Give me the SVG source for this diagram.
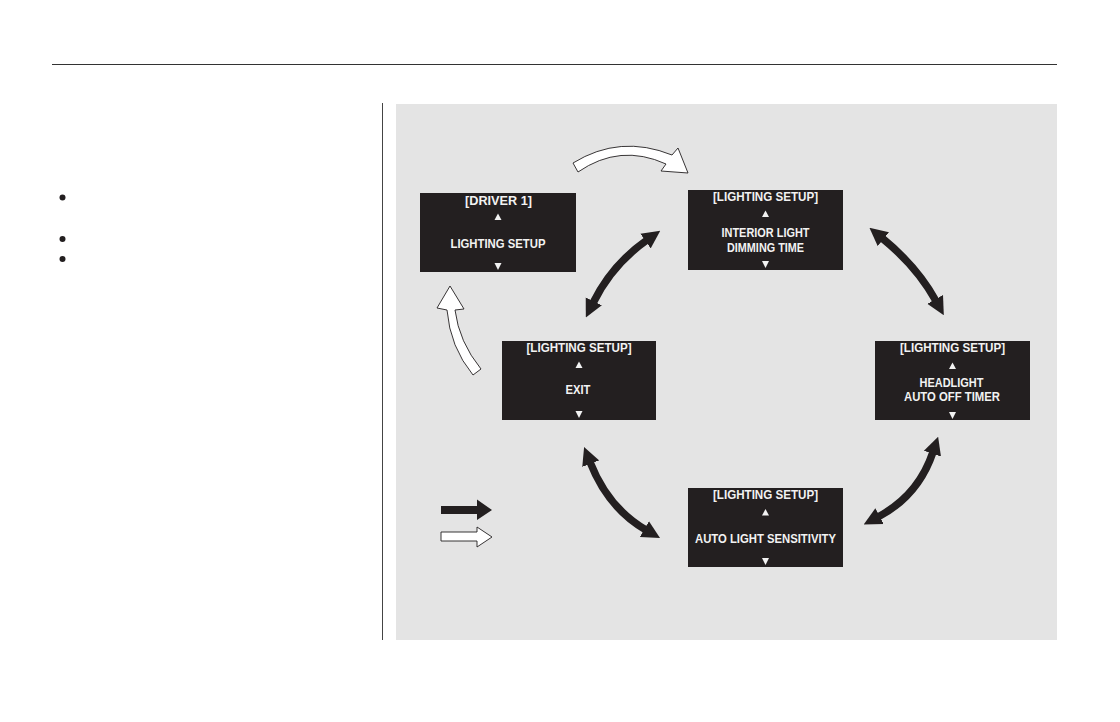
<svg xmlns="http://www.w3.org/2000/svg" width="1120" height="722" viewBox="0 0 1120 722">
<defs>
<style>
.box{fill:#231f20}
.t{font-family:"Liberation Sans",Arial,sans-serif;font-weight:bold;fill:#f2f2f2;text-anchor:middle;font-size:12.5px}
.b{font-family:"Liberation Sans",Arial,sans-serif;font-weight:bold;fill:#f2f2f2;text-anchor:middle;font-size:13.5px}
.tri{fill:#f2f2f2}
.dbl{fill:none;stroke:#231f20;stroke-width:7.5}
.wa{fill:#ffffff;stroke:#231f20;stroke-width:0.9;stroke-linejoin:miter}
</style>
<marker id="ah" viewBox="0 0 10 10" refX="1" refY="5" markerUnits="userSpaceOnUse" markerWidth="18" markerHeight="19" orient="auto-start-reverse">
<path d="M0,0 L10,5 L0,10 Z" fill="#231f20"/>
</marker>
</defs>
<rect width="1120" height="722" fill="#ffffff"/>
<line x1="52" y1="64.5" x2="1057" y2="64.5" stroke="#333" stroke-width="1"/>
<line x1="382.5" y1="103" x2="382.5" y2="640" stroke="#444" stroke-width="1"/>
<rect x="396" y="104" width="661" height="536" fill="#e4e4e4"/>
<g id="bullets" fill="#231f20">
<circle cx="62.5" cy="197.5" r="3"/>
<circle cx="62.5" cy="239" r="3"/>
<circle cx="62.5" cy="259" r="3"/>
</g>
<g id="connectors">
<path class="dbl" d="M593,303 Q612,264.5 647,240" marker-start="url(#ah)" marker-end="url(#ah)"/>
<path class="dbl" d="M882,238 Q917,266.5 936,301" marker-start="url(#ah)" marker-end="url(#ah)"/>
<path class="dbl" d="M590,462 Q608,508 646,530" marker-start="url(#ah)" marker-end="url(#ah)"/>
<path class="dbl" d="M933,452 Q918.5,495.5 878,517" marker-start="url(#ah)" marker-end="url(#ah)"/>
<path class="wa" d="M573,163 Q620,134 672,155 L678,148 L688,173 L661,171 L666,164 Q620,143 578,172 Z"/>
<path class="wa" d="M447,310 L437,308 L450,286 L464,309 L455,310 Q459,342 481,369 L473,375 Q450,347 447,310 Z"/>
</g>
<g id="legend">
<path d="M441,506 L477,506 L477,499.5 L492,510 L477,520 L477,514 L441,514 Z" fill="#231f20"/>
<path class="wa" d="M441,532 L477,532 L477,527 L492,537 L477,547 L477,541 L441,541 Z"/>
</g>
<g id="node-driver">
<rect class="box" x="420" y="193" width="156" height="79"/>
<text class="t" x="498.5" y="205" textLength="67" lengthAdjust="spacingAndGlyphs">[DRIVER 1]</text>
<polygon class="tri" points="498,213.5 501.5,220 494.5,220"/>
<text class="b" x="498" y="247.5" textLength="95" lengthAdjust="spacingAndGlyphs">LIGHTING SETUP</text>
<polygon class="tri" points="494.5,263 501.5,263 498,270"/>
</g>
<g id="node-interior">
<rect class="box" x="688" y="190" width="155" height="80"/>
<text class="t" x="765.5" y="200.7" textLength="105" lengthAdjust="spacingAndGlyphs">[LIGHTING SETUP]</text>
<polygon class="tri" points="765.5,210.5 769,217 762,217"/>
<text class="b" x="765.5" y="236.7" textLength="88" lengthAdjust="spacingAndGlyphs">INTERIOR LIGHT</text>
<text class="b" x="765.5" y="252.3" textLength="77" lengthAdjust="spacingAndGlyphs">DIMMING TIME</text>
<polygon class="tri" points="762,261 769,261 765.5,268"/>
</g>
<g id="node-exit">
<rect class="box" x="502" y="341" width="154" height="79"/>
<text class="t" x="579" y="351.7" textLength="105" lengthAdjust="spacingAndGlyphs">[LIGHTING SETUP]</text>
<polygon class="tri" points="579,361.5 582.5,368 575.5,368"/>
<text class="b" x="578" y="394.3" textLength="25" lengthAdjust="spacingAndGlyphs">EXIT</text>
<polygon class="tri" points="575.5,411 582.5,411 579,418"/>
</g>
<g id="node-headlight">
<rect class="box" x="875" y="341" width="155" height="79"/>
<text class="t" x="952.5" y="352.3" textLength="105" lengthAdjust="spacingAndGlyphs">[LIGHTING SETUP]</text>
<polygon class="tri" points="952.5,362.5 956,369 949,369"/>
<text class="b" x="951.5" y="386.7" textLength="64" lengthAdjust="spacingAndGlyphs">HEADLIGHT</text>
<text class="b" x="952" y="401" textLength="96" lengthAdjust="spacingAndGlyphs">AUTO OFF TIMER</text>
<polygon class="tri" points="949,412 956,412 952.5,419"/>
</g>
<g id="node-autolight">
<rect class="box" x="688" y="488" width="155" height="79"/>
<text class="t" x="765.5" y="499" textLength="105" lengthAdjust="spacingAndGlyphs">[LIGHTING SETUP]</text>
<polygon class="tri" points="765.5,509 769,515.5 762,515.5"/>
<text class="b" x="765.5" y="542.7" textLength="141" lengthAdjust="spacingAndGlyphs">AUTO LIGHT SENSITIVITY</text>
<polygon class="tri" points="762,558 769,558 765.5,565"/>
</g>
</svg>
